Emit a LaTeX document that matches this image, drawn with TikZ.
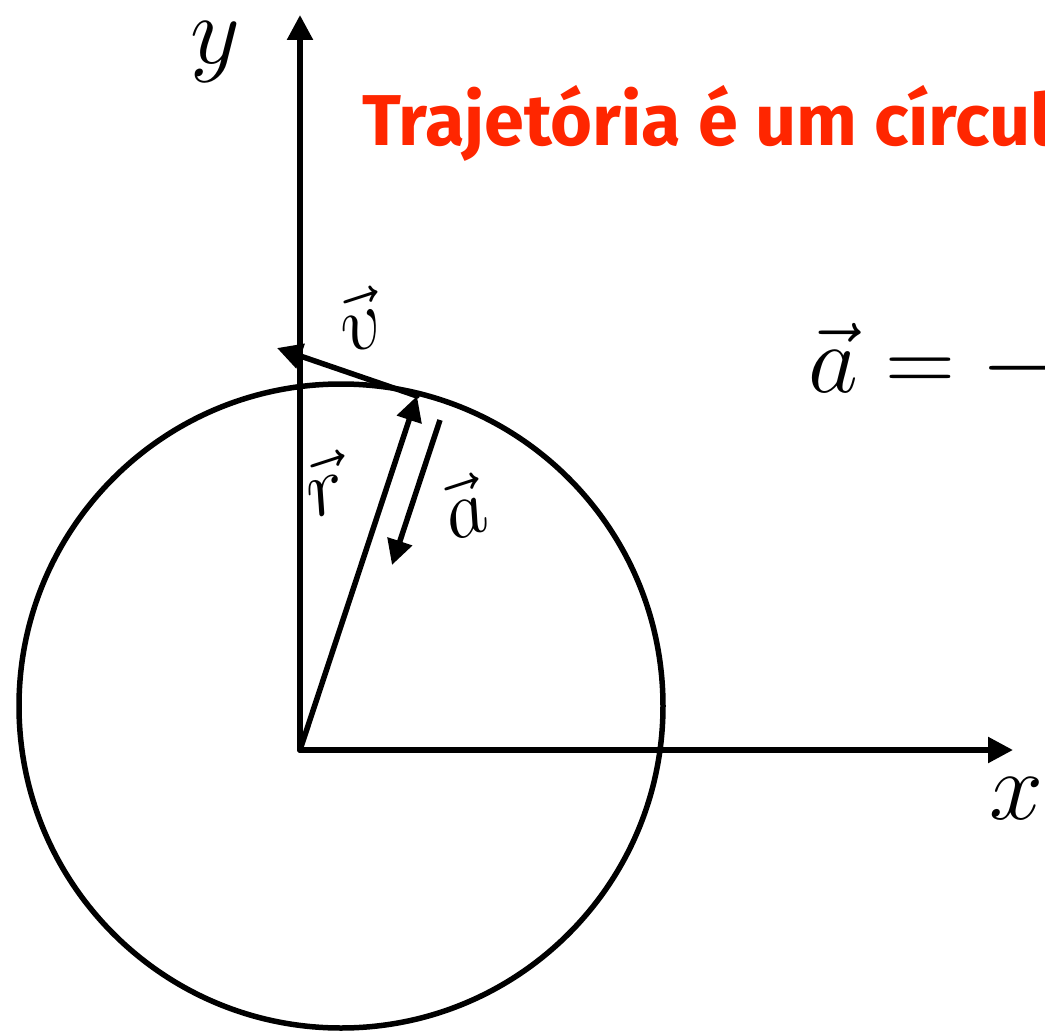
\documentclass[tikz,border=0pt]{standalone}
\usepackage{fix-cm}
\usepackage{fontspec}
\newfontfamily\titlefont{Fira Sans}
\usetikzlibrary{arrows.meta}
\definecolor{titlered}{RGB}{255,38,0}
\tikzset{
  vecline/.style={line width=5.5pt, line cap=round, -{Triangle[length=25pt,width=25pt]}},
  plainline/.style={line width=5.5pt},
  biglabel/.style={inner sep=0pt, font=\fontsize{97}{110}\selectfont},
  veclabel/.style={inner sep=0pt, rotate=18, font=\fontsize{82}{95}\selectfont},
}
\begin{document}
\begin{tikzpicture}[x=1pt,y=-1pt]
\path[use as bounding box, clip] (0,0) rectangle (1045,1033);
\fill[white] (0,0) rectangle (1045,1033);
% geometry
\coordinate (O) at (300,750);
\coordinate (C) at (341,706);
\coordinate (ytip) at (300,15);
\coordinate (xtip) at (1013,750);
\coordinate (P) at (417,396);
\coordinate (vtip) at (277,348);
\coordinate (astart) at (440,420);
\coordinate (aend) at (392,565);
% circle
\draw[plainline] (C) circle[radius=322];
% axes
\draw[vecline] (O) -- (ytip);
\draw[vecline] (O) -- (xtip);
% vectors
\draw[vecline] (O) -- (P);
\draw[vecline] (P) -- (vtip);
\draw[vecline, line cap=butt] (astart) -- (aend);
% labels
\node[biglabel] (ylab) at (215,52) {$y$};
\node[biglabel] (xlab) at (1016,799) {$x$};
\node[veclabel] (vlab) at (359,320) {$\vec{v}$};
\node[veclabel] (rlab) at (324,485) {$\vec{r}$};
\node[veclabel] (alab) at (463,507) {$\vec{a}$};
\node[biglabel, anchor=base west] (formula) at (808,392) {$\vec{a} = -$};
\node[inner sep=0pt, anchor=base west, text=titlered, font=\titlefont\bfseries\fontsize{72}{80}\selectfont] (title) at (362,145) {Trajetória é um círculo};
\end{tikzpicture}
\end{document}
